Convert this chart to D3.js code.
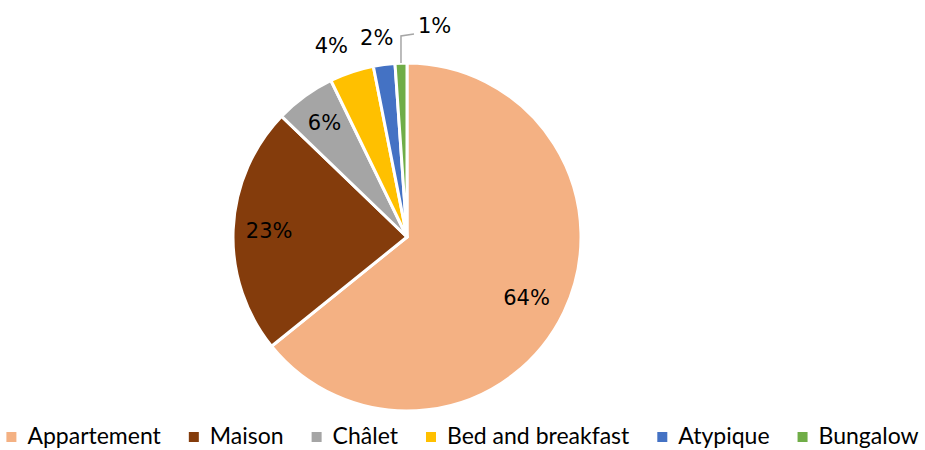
<!DOCTYPE html>
<html>
<head>
<meta charset="utf-8">
<script src="https://cdn.jsdelivr.net/npm/d3@7"></script>
<style>
  body { margin: 0; background: #fff; }
  text { fill: #000; }
  .lbl { font-family: "DejaVu Sans", sans-serif; }
  .leg { font-family: "Lato", "Noto Sans", sans-serif; }
</style>
</head>
<body>
<div id="chart"></div>
<script>
// Hébergements - share by type
let categories = ["Appartement", "Maison", "Châlet", "Bed and breakfast", "Atypique", "Bungalow"];
let values = [64.2, 23.0, 5.6, 4.1, 2.0, 1.1];
let labels = ["64%", "23%", "6%", "4%", "2%", "1%"];
let colors = ["#F4B183", "#843C0C", "#A5A5A5", "#FFC000", "#4472C4", "#70AD47"];

function makeGraph() {
  let w = 925, h = 450;
  let cx = 407, cy = 237, r = 174;

  let svg = d3.select("#chart")
              .append("svg")
              .attr("width", w)
              .attr("height", h);

  let data = categories.map((c, i) => ({ name: c, value: values[i], label: labels[i], color: colors[i] }));

  let pie = d3.pie().sort(null).value(d => d.value);
  let arcs = pie(data);

  let arc = d3.arc().innerRadius(0).outerRadius(r);
  let inLabel = d3.arc().innerRadius(137).outerRadius(137);
  let outLabel = d3.arc().innerRadius(200).outerRadius(200);
  // small nudges for outside labels, like the hand placed ones
  let nudge = [[-4, 2], [-1, 0], [-2, -3], [-12, -1], [-4, -1], [0, 0]];

  let g = svg.append("g").attr("transform", `translate(${cx},${cy})`);

  g.selectAll("path")
   .data(arcs)
   .enter()
   .append("path")
   .attr("d", arc)
   .attr("fill", d => d.data.color)
   .attr("stroke", "#fff")
   .attr("stroke-width", 3)
   .attr("stroke-linejoin", "round");

  // leader line for the smallest slice
  let last = arcs[arcs.length - 1];
  let mid = (last.startAngle + last.endAngle) / 2;
  let p0 = [r * Math.sin(mid), -r * Math.cos(mid)];
  let p1 = [p0[0], -201];
  let p2 = [p0[0] + 13, -203];
  g.append("polyline")
   .attr("points", [p0, p1, p2].map(p => p.join(",")).join(" "))
   .attr("fill", "none")
   .attr("stroke", "#A6A6A6")
   .attr("stroke-width", 1.5);

  g.selectAll("text.lbl")
   .data(arcs)
   .enter()
   .append("text")
   .attr("class", "lbl")
   .attr("font-size", 21)
   .attr("dominant-baseline", "central")
   .attr("text-anchor", (d, i) => i == arcs.length - 1 ? "start" : "middle")
   .attr("x", (d, i) => {
     if (i == arcs.length - 1) return p2[0] + 4;
     return (d.data.value >= 5 ? inLabel : outLabel).centroid(d)[0] + nudge[i][0];
   })
   .attr("y", (d, i) => {
     if (i == arcs.length - 1) return p2[1] - 8;
     return (d.data.value >= 5 ? inLabel : outLabel).centroid(d)[1] + nudge[i][1];
   })
   .text(d => d.data.label);

  // legend
  let leg = svg.append("g");
  let items = leg.selectAll("g")
    .data(data)
    .enter()
    .append("g");
  items.append("rect")
    .attr("width", 10).attr("height", 10)
    .attr("y", -12)
    .attr("fill", d => d.color);
  items.append("text")
    .attr("class", "leg")
    .attr("x", 21)
    .attr("y", 0)
    .attr("font-size", 23)
    .text(d => d.name);

  let x = 0;
  items.each(function() {
    let t = d3.select(this).select("text").node().getComputedTextLength();
    d3.select(this).attr("transform", `translate(${x},0)`);
    x += 21 + t + 28;
  });
  let total = x - 28;
  leg.attr("transform", `translate(${(w - total) / 2},444)`);
}

window.onload = function() {
  makeGraph();
};
</script>
</body>
</html>
